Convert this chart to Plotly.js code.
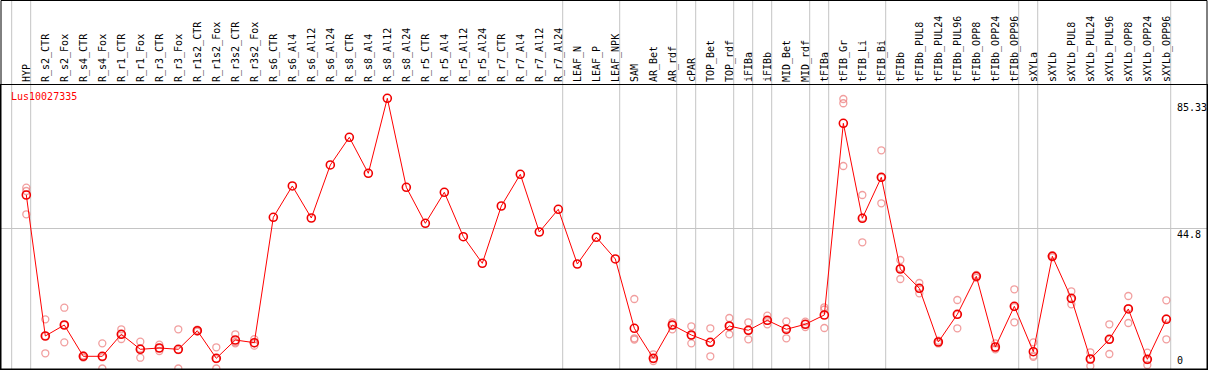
<!DOCTYPE html>
<html>
<head>
<meta charset="utf-8">
<script src="https://cdn.plot.ly/plotly-3.0.1.min.js"></script>
<style>html,body{margin:0;padding:0;background:#fff;}#chart{width:1209px;height:370px;}</style>
</head>
<body>
<div id="chart"></div>
<script>
const geneName = "Lus10027335";
const categories = ["HYP","R_s2_CTR","R_s2_Fox","R_s4_CTR","R_s4_Fox","R_r1_CTR","R_r1_Fox","R_r3_CTR","R_r3_Fox","R_r1s2_CTR","R_r1s2_Fox","R_r3s2_CTR","R_r3s2_Fox","R_s6_CTR","R_s6_Al4","R_s6_Al12","R_s6_Al24","R_s8_CTR","R_s8_Al4","R_s8_Al12","R_s8_Al24","R_r5_CTR","R_r5_Al4","R_r5_Al12","R_r5_Al24","R_r7_CTR","R_r7_Al4","R_r7_Al12","R_r7_Al24","LEAF_N","LEAF_P","LEAF_NPK","SAM","AR_Bet","AR_rdf","cPAR","TOP_Bet","TOP_rdf","iFIBa","iFIBb","MID_Bet","MID_rdf","tFIBa","tFIB_Gr","tFIB_Li","tFIB_Bi","tFIBb","tFIBb_PUL8","tFIBb_PUL24","tFIBb_PUL96","tFIBb_OPP8","tFIBb_OPP24","tFIBb_OPP96","sXYLa","sXYLb","sXYLb_PUL8","sXYLb_PUL24","sXYLb_PUL96","sXYLb_OPP8","sXYLb_OPP24","sXYLb_OPP96"];
const meanValues = [55.45,10.39,13.90,3.90,3.90,10.93,6.14,6.55,6.14,12.08,3.26,9.11,8.25,48.32,58.33,48.10,65.04,73.89,62.38,86.35,57.91,46.40,56.31,42.12,33.62,51.93,62.06,43.62,50.88,33.40,41.93,35.00,12.85,3.26,13.90,10.71,8.37,13.58,12.21,15.40,12.53,14.13,17.10,78.36,48.00,61.11,31.80,25.63,8.47,17.32,29.47,6.87,19.88,5.37,35.86,22.44,3.04,9.33,19.02,2.94,15.72];
const replicate1 = [57.78,15.72,19.43,3.90,8.05,12.53,8.56,7.61,12.53,12.10,6.78,10.93,8.05,null,null,null,null,null,null,null,null,null,null,null,null,null,null,null,null,null,null,null,22.21,4.54,14.77,13.49,12.85,16.14,14.77,16.87,15.08,14.96,19.56,86.13,55.45,69.73,34.68,27.33,8.50,21.89,29.50,8.05,25.31,8.37,35.90,24.67,5.18,14.13,23.17,5.05,21.80];
const replicate2 = [56.73,4.86,8.37,3.50,0.00,9.43,3.45,5.59,0.00,11.80,0.00,8.05,7.29,null,null,null,null,null,null,null,null,null,null,null,null,null,null,null,null,null,null,null,9.65,2.40,12.53,8.05,3.90,10.93,9.33,14.13,9.65,13.26,12.94,84.76,40.33,52.80,28.60,24.03,8.00,12.85,29.00,6.46,14.77,4.09,35.50,20.52,0.80,4.63,14.54,1.12,9.33];
const replicate3 = [49.28,10.40,13.90,4.20,3.60,10.90,6.40,6.50,5.90,12.40,3.00,8.40,9.40,null,null,null,null,null,null,null,null,null,null,null,null,null,null,null,null,null,null,null,9.27,3.00,13.90,10.60,8.40,13.60,12.20,15.20,12.80,14.20,18.86,64.72,48.20,61.00,32.10,25.50,8.90,17.20,29.90,6.10,19.60,3.70,36.20,22.20,3.10,9.20,19.30,2.70,16.00];
const groupLastIndex = [-1,0,28,31,34,35,37,38,39,41,42,45,52,53,60];
const yTickValues = [0,44.8,85.33];
const yTickLabels = ["0","44.8","85.33"];

const idx = categories.map((_, i) => i);
const repX = [], repY = [];
[replicate1, replicate2, replicate3].forEach(arr => {
  arr.forEach((v, i) => { if (v !== null) { repX.push(i); repY.push(v); } });
});

const W = 1209, H = 370;
const mL = 1, mR = 2, mT = 85, mB = 1;
const plotW = W - mL - mR, plotH = H - mT - mB;
const FONT = "DejaVu Sans Mono, monospace";

const traces = [
  {x: repX, y: repY, type: 'scatter', mode: 'markers', hoverinfo: 'skip',
   marker: {symbol: 'circle-open', size: 7, color: 'rgba(235,120,120,0.72)', line: {width: 1.3}}},
  {x: idx, y: meanValues, type: 'scatter', mode: 'lines+markers',
   line: {color: '#ff0000', width: 1},
   marker: {symbol: 'circle-open', size: 8, color: '#f00000', line: {width: 1.6}}}
];

const shapes = groupLastIndex.map(g => ({
  type: 'line', xref: 'x', yref: 'paper', x0: g + 0.23, x1: g + 0.23,
  y0: 0, y1: 1 + mT / plotH, layer: 'below', line: {color: '#c4c4c4', width: 1}
}));
shapes.push({type: 'rect', xref: 'paper', yref: 'paper', x0: 0, x1: 1, y0: 0, y1: 1 + (mT - 0.5) / plotH,
  line: {color: '#000', width: 1}, fillcolor: 'rgba(0,0,0,0)', layer: 'above'});

const annotations = [
  {text: geneName, xref: 'paper', yref: 'paper', x: 8.5 / plotW, y: 1 - 11.5 / plotH,
   xanchor: 'left', yanchor: 'middle', showarrow: false, font: {family: FONT, size: 10, color: '#ff0000'}, borderpad: 0}
];
yTickValues.forEach((v, k) => {
  if (v === 0) {
    annotations.push({text: yTickLabels[k], xref: 'paper', yref: 'paper', x: (1176 - mL) / plotW,
      y: (H - mB - 367) / plotH, xanchor: 'left', yanchor: 'bottom', showarrow: false, borderpad: 0,
      font: {family: FONT, size: 10, color: '#000'}});
  } else {
    annotations.push({text: yTickLabels[k], xref: 'paper', yref: 'y', x: (1176 - mL) / plotW,
      y: v, xanchor: 'left', yanchor: 'top', showarrow: false, borderpad: 0,
      font: {family: FONT, size: 10, color: '#000'}});
  }
});

const layout = {
  width: W, height: H,
  margin: {l: mL, r: mR, t: mT, b: mB, pad: 0},
  paper_bgcolor: '#fff', plot_bgcolor: '#fff',
  showlegend: false,
  xaxis: {range: [-1.332, 62.14], side: 'top', tickmode: 'array', tickvals: idx, ticktext: categories,
    tickangle: -90, ticks: '', showgrid: false, zeroline: false, showline: true, mirror: true,
    linecolor: '#000', linewidth: 1, tickfont: {family: FONT, size: 10, color: '#000'}, fixedrange: true},
  yaxis: {range: [-0.16, 90.6], tickmode: 'array', tickvals: [44.8], showticklabels: false, ticks: '',
    showgrid: true, gridcolor: '#c4c4c4', gridwidth: 1, zeroline: false, showline: true, mirror: true,
    linecolor: '#000', linewidth: 1, fixedrange: true},
  shapes: shapes,
  annotations: annotations
};

Plotly.newPlot('chart', traces, layout, {displayModeBar: false, staticPlot: true});
</script>
</body>
</html>
